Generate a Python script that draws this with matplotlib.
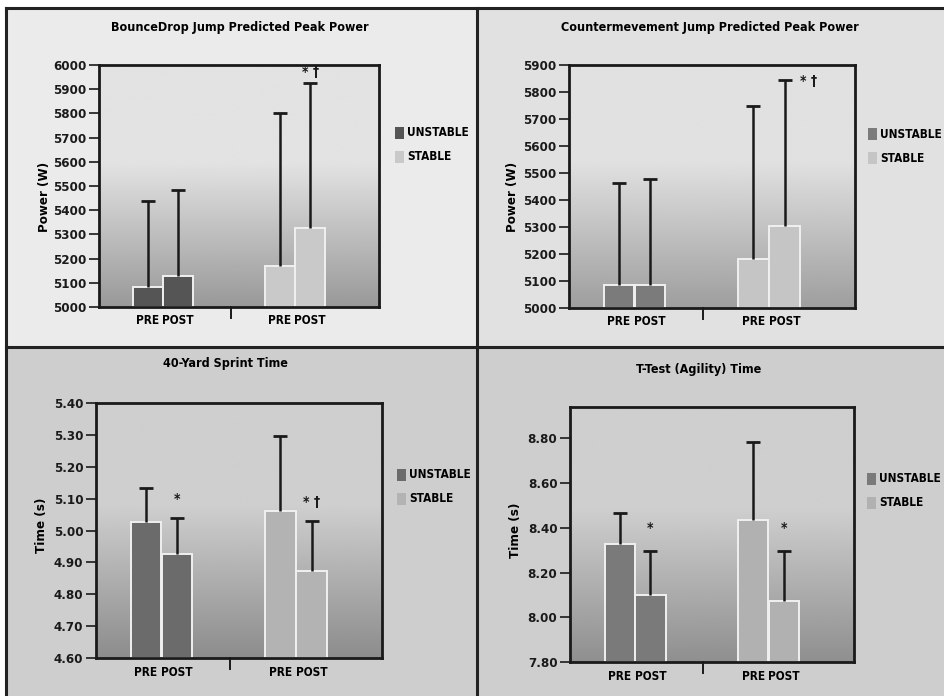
"""Four-panel pre/post bar chart (unstable vs stable training groups)."""

import matplotlib

matplotlib.use("Agg")
import matplotlib.pyplot as plt  # noqa: E402
import numpy as np  # noqa: E402
from matplotlib.patches import Rectangle  # noqa: E402
from matplotlib.transforms import blended_transform_factory  # noqa: E402

plt.rcParams["font.family"] = ["DejaVu Sans"]
plt.rcParams["font.stretch"] = "condensed"
plt.rcParams["font.weight"] = "bold"

# ---- data -------------------------------------------------------------
conditions = ["PRE", "POST", "PRE", "POST"]
groups = ["UNSTABLE", "STABLE"]

titles = [
    "BounceDrop Jump Predicted Peak Power",
    "Countermevement Jump Predicted Peak Power",
    "40-Yard Sprint Time",
    "T-Test (Agility) Time",
]
ylabels = ["Power (W)", "Power (W)", "Time (s)", "Time (s)"]

bdj_mean = [5081, 5127, 5169, 5328]
bdj_sd = [356, 358, 632, 597]
cmj_mean = [5084, 5087, 5182, 5302]
cmj_sd = [380, 392, 568, 541]
sprint_mean = [5.028, 4.926, 5.062, 4.872]
sprint_sd = [0.104, 0.113, 0.236, 0.157]
ttest_mean = [8.328, 8.100, 8.435, 8.071]
ttest_sd = [0.140, 0.196, 0.350, 0.225]

# significance marks per bar ("" = none)
bdj_sig = ["", "", "", "* \u2020"]
cmj_sig = ["", "", "", "* \u2020"]
sprint_sig = ["", "*", "", "* \u2020"]
ttest_sig = ["", "*", "", "*"]

yticks = [
    np.arange(5000, 6001, 100),
    np.arange(5000, 5901, 100),
    np.arange(4.6, 5.401, 0.1),
    np.arange(7.8, 8.801, 0.2),
]
ylims = [(5000, 6000), (5000, 5900), (4.6, 5.4), (7.8, 8.94)]
tick_fmt = ["{:.0f}", "{:.0f}", "{:.2f}", "{:.2f}"]

# ---- layout / style ---------------------------------------------------
W, H = 945, 696
panel_bg = ["#ebebeb", "#e1e1e1", "#cecece", "#cecece"]
# axes boxes in pixels: left, right, top, bottom
ax_px = [(99, 379, 65, 307), (569, 855, 65, 308), (96, 382, 403, 658), (570, 854, 407, 662)]
title_px = [(240, 28), (710, 28), (225, 364), (699, 369)]
ylabel_px = [(45, 197), (513, 197), (41, 525), (515, 530)]
legend_px = [(395, 133), (868, 134), (397, 475), (867, 479)]
grad = [(0.89, 0.60), (0.88, 0.62), (0.81, 0.55), (0.81, 0.56)]
bar_colors = [
    ("#555555", "#c9c9c9"),
    ("#7b7b7b", "#c5c5c5"),
    ("#6b6b6b", "#b3b3b3"),
    ("#7a7a7a", "#b1b1b1"),
]
sig_offsets = [(0.0, 5970, "center"), (0.055, 5840, "left"), (0.0, None, "center"), (0.0, 8.40, "center")]

xpos = [0.175, 0.283, 0.645, 0.754]
bar_w = 0.107
sep_x = 0.47

fig = plt.figure(figsize=(W / 100, H / 100), dpi=100)
fig.patch.set_facecolor("white")


def fx(px):
    return px / W


def fy(py):
    return 1 - py / H


# panel backgrounds and divider lines
panel_boxes = [(6, 477, 8, 347), (477, 945, 8, 347), (6, 477, 347, 696), (477, 945, 347, 696)]
for (l, r, t, b), c in zip(panel_boxes, panel_bg):
    fig.patches.append(Rectangle((fx(l), fy(b)), fx(r - l), (b - t) / H,
                                 transform=fig.transFigure, facecolor=c, edgecolor="none", zorder=-5))
for xs, ys in [((6, 945), (8, 8)), ((6, 6), (8, 696)), ((6, 945), (347, 347)), ((477, 477), (8, 696))]:
    fig.add_artist(plt.Line2D([fx(x) for x in xs], [fy(y) for y in ys], color="#222222", lw=2.2))

datasets = [
    (bdj_mean, bdj_sd, bdj_sig),
    (cmj_mean, cmj_sd, cmj_sig),
    (sprint_mean, sprint_sd, sprint_sig),
    (ttest_mean, ttest_sd, ttest_sig),
]

for i, (mean, sd, sig) in enumerate(datasets):
    l, r, t, b = ax_px[i]
    ax = fig.add_axes([fx(l), fy(b), fx(r - l), (b - t) / H])
    y0, y1 = ylims[i]
    ax.set_xlim(0, 1)
    ax.set_ylim(y0, y1)

    # vertical gradient backdrop
    top, bot = grad[i]
    s = np.linspace(0, 1, 256)
    shade = np.where(s < 0.4, top, top - (top - bot) * ((s - 0.4) / 0.6))
    ax.imshow(shade[:, None], extent=(0, 1, y0, y1), aspect="auto", cmap="gray",
              vmin=0, vmax=1, zorder=0, interpolation="bilinear")

    cols = [bar_colors[i][0]] * 2 + [bar_colors[i][1]] * 2
    heights = [m - y0 for m in mean]
    ax.bar(xpos, heights, width=bar_w, bottom=y0, color=cols, edgecolor="#f0f0f0",
           linewidth=1.4, zorder=2)
    _, caps, _ = ax.errorbar(xpos, mean, yerr=[np.zeros(4), sd], fmt="none", ecolor="#1a1a1a",
                             elinewidth=1.8, capsize=5, capthick=2, zorder=3)
    # keep only the upper caps
    for cap in caps:
        if np.allclose(cap.get_ydata(), mean):
            cap.set_visible(False)

    dx, ysig, ha = sig_offsets[i]
    for k, mark in enumerate(sig):
        if not mark:
            continue
        if ysig is None:
            yy = mean[k] + sd[k] + (y1 - y0) * 0.075
        else:
            yy = ysig
        ax.text(xpos[k] + dx, yy, mark, ha=ha, va="center", fontsize=10, color="#1a1a1a")

    for sp in ax.spines.values():
        sp.set_linewidth(2)
        sp.set_color("#1a1a1a")
    ax.set_xticks([])
    ax.set_yticks(yticks[i])
    ax.set_yticklabels([tick_fmt[i].format(v) for v in yticks[i]], fontsize=9.5)
    ax.tick_params(axis="y", direction="out", length=7, width=1.2, pad=2, colors="#1a1a1a")

    trans = blended_transform_factory(ax.transData, ax.transAxes)
    ax.plot([sep_x, sep_x], [0, -0.045], color="#1a1a1a", lw=1.4, transform=trans, clip_on=False)
    for k, name in enumerate(conditions):
        ax.text(xpos[k], -0.03, name, transform=trans, ha="center", va="top", fontsize=8.5)

    cx, cy = title_px[i]
    fig.text(fx(cx), fy(cy), titles[i], ha="center", va="center", fontsize=9)
    lx, ly = ylabel_px[i]
    fig.text(fx(lx), fy(ly), ylabels[i], ha="center", va="center", rotation=90, fontsize=9.5)

    gx, gy = legend_px[i]
    for j, g in enumerate(groups):
        yy = gy + 24 * j
        fig.patches.append(Rectangle((fx(gx), fy(yy + 6)), fx(9), 12 / H, transform=fig.transFigure,
                                     facecolor=bar_colors[i][j], edgecolor="none"))
        fig.text(fx(gx + 12), fy(yy), g, ha="left", va="center", fontsize=8.5)

fig.savefig("out.png", dpi=100, facecolor="white")
